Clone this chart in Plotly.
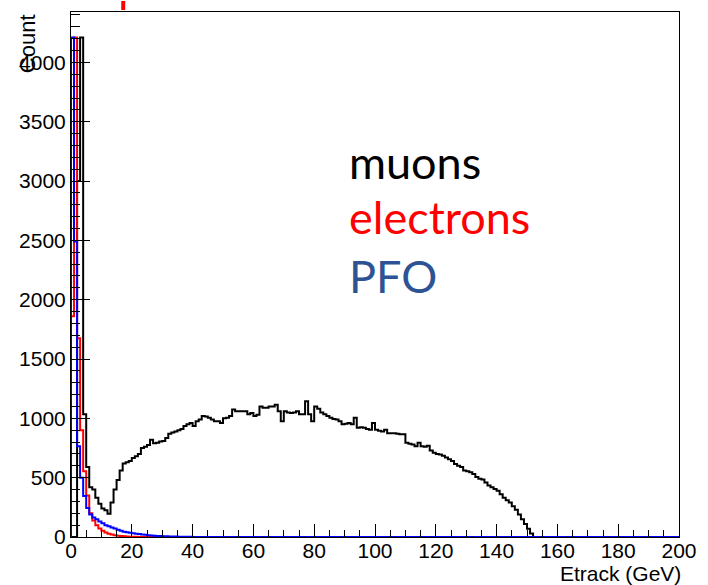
import plotly.graph_objects as go

# ---- data: 1 GeV bins from 0 to 200 GeV ----
bin_edges_low = 0
bin_width = 1

muons = [
    0, 0, 3000, 4210, 1035, 590, 420, 400, 330, 280, 240, 225, 195, 290, 400, 480, 560, 620, 630, 640,
    665, 680, 700, 750, 760, 775, 820, 790, 795, 805, 810, 835, 870, 880, 890, 900, 910, 935, 950, 960,
    935, 975, 990, 1020, 1015, 1005, 990, 975, 975, 960, 1000, 1005, 1020, 1075, 1060, 1060, 1060, 1060, 1035, 1045,
    1020, 1030, 1100, 1090, 1090, 1100, 1100, 1115, 1060, 975, 1060, 1050, 1045, 1050, 1060, 1035, 1035, 1145, 1035, 975,
    1100, 1080, 1050, 1035, 1020, 1005, 995, 990, 975, 950, 955, 960, 950, 1005, 920, 925, 920, 910, 905, 960,
    905, 895, 890, 905, 875, 875, 875, 870, 865, 865, 795, 785, 780, 765, 795, 765, 760, 770, 730, 710,
    700, 695, 685, 670, 655, 640, 615, 600, 590, 560, 555, 545, 530, 505, 490, 485, 460, 435, 420, 405,
    390, 360, 330, 310, 290, 260, 230, 190, 150, 110, 70, 30, 0, 0, 0, 0, 0, 0, 0, 0,
    0, 0, 0, 0, 0, 0, 0, 0, 0, 0, 0, 0, 0, 0, 0, 0, 0, 0, 0, 0,
    0, 0, 0, 0, 0, 0, 0, 0, 0, 0, 0, 0, 0, 0, 0, 0, 0, 0, 0, 0,
]

electrons = [
    1860, 4210, 1675, 900, 555, 350, 200, 140, 100, 72, 52, 38, 28, 21, 15, 11, 8, 6, 4, 3,
    2, 2, 1, 1, 1, 1, 0, 0, 0, 0, 0, 0, 0, 0, 0, 0, 0, 0, 0, 0,
    0, 0, 0, 0, 0, 0, 0, 0, 0, 0, 0, 0, 0, 0, 0, 0, 0, 0, 0, 0,
    0, 0, 0, 0, 0, 0, 0, 0, 0, 0, 0, 0, 0, 0, 0, 0, 0, 0, 0, 0,
    0, 0, 0, 0, 0, 0, 0, 0, 0, 0, 0, 0, 0, 0, 0, 0, 0, 0, 0, 0,
    0, 0, 0, 0, 0, 0, 0, 0, 0, 0, 0, 0, 0, 0, 0, 0, 0, 0, 0, 0,
    0, 0, 0, 0, 0, 0, 0, 0, 0, 0, 0, 0, 0, 0, 0, 0, 0, 0, 0, 0,
    0, 0, 0, 0, 0, 0, 0, 0, 0, 0, 0, 0, 0, 0, 0, 0, 0, 0, 0, 0,
    0, 0, 0, 0, 0, 0, 0, 0, 0, 0, 0, 0, 0, 0, 0, 0, 0, 0, 0, 0,
    0, 0, 0, 0, 0, 0, 0, 0, 0, 0, 0, 0, 0, 0, 0, 0, 0, 0, 0, 0,
]

pfo = [
    4210, 2490, 765, 500, 345, 245, 190, 165, 150, 130, 115, 100, 90, 80, 72, 62, 52, 45, 40, 36,
    32, 28, 25, 21, 18, 15, 13, 11, 9, 8, 7, 6, 5, 4, 4, 3, 3, 2, 2, 2,
    1, 1, 1, 1, 1, 1, 1, 0, 0, 0, 0, 0, 0, 0, 0, 0, 0, 0, 0, 0,
    0, 0, 0, 0, 0, 0, 0, 0, 0, 0, 0, 0, 0, 0, 0, 0, 0, 0, 0, 0,
    0, 0, 0, 0, 0, 0, 0, 0, 0, 0, 0, 0, 0, 0, 0, 0, 0, 0, 0, 0,
    0, 0, 0, 0, 0, 0, 0, 0, 0, 0, 0, 0, 0, 0, 0, 0, 0, 0, 0, 0,
    0, 0, 0, 0, 0, 0, 0, 0, 0, 0, 0, 0, 0, 0, 0, 0, 0, 0, 0, 0,
    0, 0, 0, 0, 0, 0, 0, 0, 0, 0, 0, 0, 0, 0, 0, 0, 0, 0, 0, 0,
    0, 0, 0, 0, 0, 0, 0, 0, 0, 0, 0, 0, 0, 0, 0, 0, 0, 0, 0, 0,
    0, 0, 0, 0, 0, 0, 0, 0, 0, 0, 0, 0, 0, 0, 0, 0, 0, 0, 0, 0,
]

x_tick_values = [0, 20, 40, 60, 80, 100, 120, 140, 160, 180, 200]
x_tick_labels = ["0", "20", "40", "60", "80", "100", "120", "140", "160", "180", "200"]
y_tick_values = [0, 500, 1000, 1500, 2000, 2500, 3000, 3500, 4000]
y_tick_labels = ["0", "500", "1000", "1500", "2000", "2500", "3000", "3500", "4000"]

legend_labels = ["muons", "electrons", "PFO"]
legend_colors = ["#000000", "#FF0000", "#2E5395"]


def step_xy(values):
    n = len(values)
    xs = [bin_edges_low] + [bin_edges_low + i * bin_width for i in range(n)] + [bin_edges_low + n * bin_width]
    ys = [0] + list(values) + [values[-1]]
    return xs, ys


fig = go.Figure()
for vals, col in [(muons, "#000000"), (electrons, "#FF0000"), (pfo, "#0000FF")]:
    xs, ys = step_xy(vals)
    fig.add_trace(go.Scatter(x=xs, y=ys, mode="lines", line=dict(color=col, width=2, shape="hv"),
                             showlegend=False, hoverinfo="skip"))

W, H = 708, 585
L, R, T, B = 71, 20, 11, 48
pw, ph = W - L - R, H - T - B


def px_to_paper_x(px):
    return (px - L) / pw


def px_to_paper_y(py):
    return (H - B - py) / ph


tickfont = dict(family="Liberation Sans, Arial, sans-serif", size=21, color="black")

fig.update_layout(
    width=W, height=H,
    margin=dict(l=L, r=R, t=T, b=B, pad=0),
    paper_bgcolor="white", plot_bgcolor="white",
    xaxis=dict(range=[0, 200], tickvals=x_tick_values, ticktext=x_tick_labels,
               ticks="inside", ticklen=13, tickwidth=1, tickcolor="black",
               minor=dict(dtick=5, ticks="inside", ticklen=7, tickwidth=1, tickcolor="black"),
               showline=True, linecolor="black", linewidth=1, mirror=True,
               showgrid=False, zeroline=False, tickfont=tickfont, ticklabelstandoff=-5),
    yaxis=dict(range=[0, 4425], tickvals=y_tick_values, ticktext=y_tick_labels,
               ticks="inside", ticklen=19, tickwidth=1, tickcolor="black",
               minor=dict(dtick=100, ticks="inside", ticklen=9, tickwidth=1, tickcolor="black"),
               showline=True, linecolor="black", linewidth=1, mirror=True,
               showgrid=False, zeroline=False, tickfont=tickfont),
)

annots = []
annots.append(dict(text="Etrack (GeV)", xref="paper", yref="paper", x=px_to_paper_x(692), y=px_to_paper_y(574),
                   xanchor="right", yanchor="middle", showarrow=False,
                   font=dict(family="Liberation Sans, Arial, sans-serif", size=21, color="black")))
annots.append(dict(text="Count", xref="paper", yref="paper", x=px_to_paper_x(27), y=px_to_paper_y(11),
                   xanchor="center", yanchor="top", textangle=-90, showarrow=False,
                   font=dict(family="Liberation Sans, Arial, sans-serif", size=22, color="black")))
for lab, col, cy in zip(legend_labels, legend_colors, [161, 216, 276]):
    annots.append(dict(text=lab, xref="paper", yref="paper", x=px_to_paper_x(351), y=px_to_paper_y(cy),
                       xanchor="left", yanchor="middle", showarrow=False,
                       font=dict(family="Lato, sans-serif", size=45, color=col)))
fig.update_layout(annotations=annots)

fig.add_shape(type="rect", xref="paper", yref="paper",
              x0=px_to_paper_x(122), x1=px_to_paper_x(126), y0=px_to_paper_y(9), y1=px_to_paper_y(0),
              fillcolor="#FF0000", line=dict(width=0))

fig.write_html("out.html")
